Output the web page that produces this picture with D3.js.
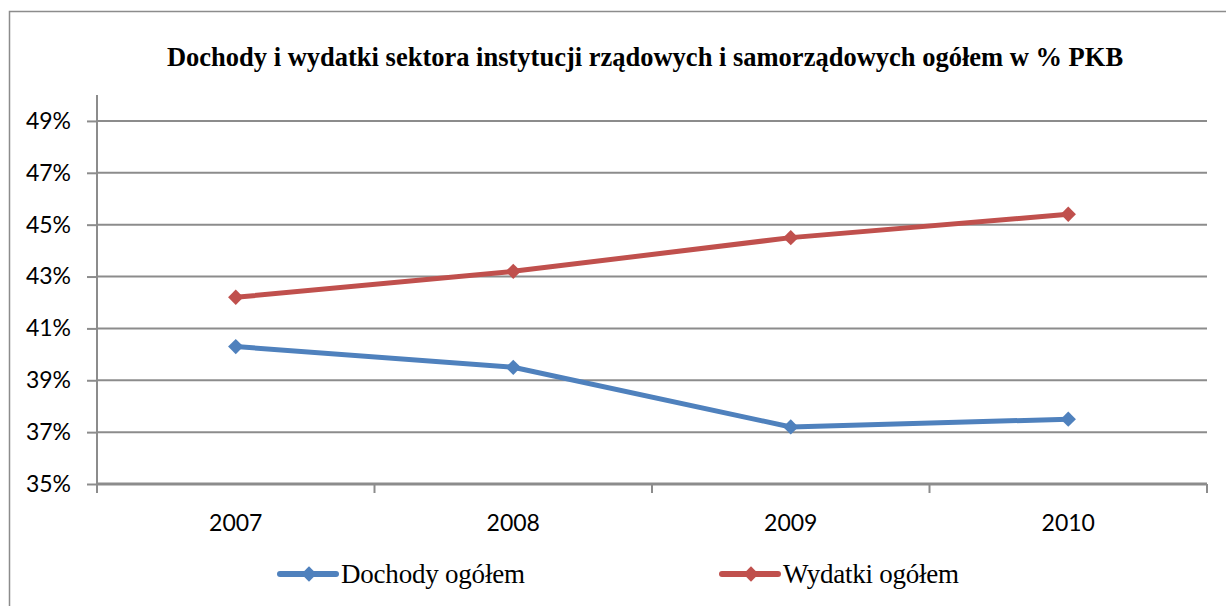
<!DOCTYPE html>
<html>
<head>
<meta charset="utf-8">
<script src="https://cdn.jsdelivr.net/npm/d3@7"></script>
<style>
  body { margin: 0; background: #fff; }
  svg { display: block; }
</style>
</head>
<body>
<svg id="chart" width="1226" height="606"></svg>
<script>
// data
const years = ["2007", "2008", "2009", "2010"];
const dochody = [40.3, 39.5, 37.2, 37.5];
const wydatki = [42.2, 43.2, 44.5, 45.4];
const yTicks = [35, 37, 39, 41, 43, 45, 47, 49];
const seriesNames = ["Dochody ogółem", "Wydatki ogółem"];
const seriesColors = ["#4F81BD", "#C0504D"];

const svg = d3.select("#chart");
const margin = { top: 95, right: 19, bottom: 122, left: 97 };
const width = 1226 - margin.left - margin.right;
const height = 606 - margin.top - margin.bottom;

// outer chart frame (runs off the right and bottom edges)
svg.append("rect")
   .attr("x", 9.5).attr("y", 11.5)
   .attr("width", 1240).attr("height", 620)
   .attr("fill", "none")
   .attr("stroke", "#8c8c8c")
   .attr("stroke-width", 1.5);

// title
svg.append("text")
   .attr("x", 645).attr("y", 66)
   .attr("text-anchor", "middle")
   .attr("font-family", "Liberation Serif, serif")
   .attr("font-weight", "bold")
   .attr("font-size", 26.5)
   .text("Dochody i wydatki sektora instytucji rządowych i samorządowych ogółem w % PKB");

const chart = svg.append("g")
   .attr("transform", `translate(${margin.left},${margin.top})`);

const xScale = d3.scaleBand()
   .domain(years)
   .range([0, width]);

const yScale = d3.scaleLinear()
   .domain([35, 50])
   .range([height, 0]);

// gridlines
chart.append("g")
   .selectAll("line")
   .data(yTicks)
   .enter()
   .append("line")
   .attr("x1", 0).attr("x2", width)
   .attr("y1", d => yScale(d)).attr("y2", d => yScale(d))
   .attr("stroke", "#8c8c8c")
   .attr("stroke-width", 2);

// y axis
const yAxis = chart.append("g")
   .call(d3.axisLeft(yScale).tickValues(yTicks).tickSize(10).tickPadding(16).tickFormat(d => d + "%"));
yAxis.select(".domain").attr("stroke", "#8c8c8c").attr("stroke-width", 2).attr("d", `M0,0V${height}`);
yAxis.selectAll(".tick line").attr("stroke", "#8c8c8c").attr("stroke-width", 2);
yAxis.selectAll("text")
   .attr("font-family", "Lato, sans-serif")
   .attr("font-size", 23)
   .attr("fill", "#000");

// x axis with ticks on band boundaries
const xAxisG = chart.append("g")
   .attr("transform", `translate(0,${height})`);
xAxisG.append("line")
   .attr("x1", 0).attr("x2", width)
   .attr("stroke", "#8c8c8c").attr("stroke-width", 3);
const bounds = years.map(d => xScale(d)).concat([width]);
xAxisG.selectAll(".xtick")
   .data(bounds)
   .enter()
   .append("line")
   .attr("class", "xtick")
   .attr("x1", d => d).attr("x2", d => d)
   .attr("y1", 0).attr("y2", 9)
   .attr("stroke", "#8c8c8c").attr("stroke-width", 2);
xAxisG.selectAll(".xlabel")
   .data(years)
   .enter()
   .append("text")
   .attr("class", "xlabel")
   .attr("x", d => xScale(d) + xScale.bandwidth() / 2)
   .attr("y", 47)
   .attr("text-anchor", "middle")
   .attr("font-family", "Lato, sans-serif")
   .attr("font-size", 23)
   .text(d => d);

// lines
const line = d3.line()
   .x((d, i) => xScale(years[i]) + xScale.bandwidth() / 2)
   .y(d => yScale(d));

const diamond = d3.symbol().type(d3.symbolDiamond2).size(150);

[dochody, wydatki].forEach((vals, s) => {
    chart.append("path")
       .datum(vals)
       .attr("fill", "none")
       .attr("stroke", seriesColors[s])
       .attr("stroke-width", 5)
       .attr("stroke-linejoin", "round")
       .attr("d", line);
    chart.selectAll(".m" + s)
       .data(vals)
       .enter()
       .append("path")
       .attr("class", "m" + s)
       .attr("transform", (d, i) => `translate(${xScale(years[i]) + xScale.bandwidth() / 2},${yScale(d)})`)
       .attr("d", diamond)
       .attr("fill", seriesColors[s]);
});

// legend
const legendX = [280, 722];
const legendLen = [184, 176];
const legend = svg.selectAll(".legend")
   .data(seriesNames)
   .enter()
   .append("g")
   .attr("class", "legend")
   .attr("transform", (d, i) => `translate(${legendX[i]},574)`);
legend.append("line")
   .attr("x1", 0).attr("x2", 56)
   .attr("stroke", (d, i) => seriesColors[i])
   .attr("stroke-width", 6)
   .attr("stroke-linecap", "round");
legend.append("path")
   .attr("transform", "translate(29,0)")
   .attr("d", diamond)
   .attr("fill", (d, i) => seriesColors[i]);
legend.append("text")
   .attr("x", 61).attr("y", 9)
   .attr("font-family", "Liberation Serif, serif")
   .attr("font-size", 27)
   .attr("textLength", (d, i) => legendLen[i])
   .attr("lengthAdjust", "spacing")
   .text(d => d);
</script>
</body>
</html>
